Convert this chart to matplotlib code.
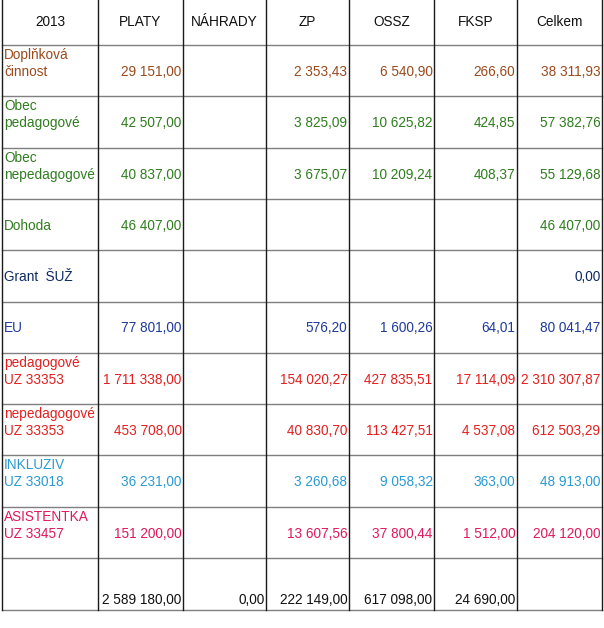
import matplotlib
matplotlib.use("Agg")
import matplotlib.pyplot as plt

plt.rcParams['font.family'] = ['Liberation Sans', 'DejaVu Sans']

# ---- data ----
header = ["2013", "PLATY", "NÁHRADY", "ZP", "OSSZ", "FKSP", "Celkem"]
row_labels = [
    "Doplňková\nčinnost",
    "Obec\npedagogové",
    "Obec\nnepedagogové",
    "Dohoda",
    "Grant  ŠUŽ",
    "EU",
    "pedagogové\nUZ 33353",
    "nepedagogové\nUZ 33353",
    "INKLUZIV\nUZ 33018",
    "ASISTENTKA\nUZ 33457",
]
platy = [29151.00, 42507.00, 40837.00, 46407.00, None, 77801.00, 1711338.00, 453708.00, 36231.00, 151200.00]
nahrady = [None] * 10
zp = [2353.43, 3825.09, 3675.07, None, None, 576.20, 154020.27, 40830.70, 3260.68, 13607.56]
ossz = [6540.90, 10625.82, 10209.24, None, None, 1600.26, 427835.51, 113427.51, 9058.32, 37800.44]
fksp = [266.60, 424.85, 408.37, None, None, 64.01, 17114.09, 4537.08, 363.00, 1512.00]
celkem = [38311.93, 57382.76, 55129.68, 46407.00, 0.00, 80041.47, 2310307.87, 612503.29, 48913.00, 204120.00]
totals = [2589180.00, 0.00, 222149.00, 617098.00, 24690.00, None]

row_colors = ["#9a4a1c", "#2f7d1e", "#2f7d1e", "#2f7d1e", "#0d2a66", "#1f3a9c",
              "#e3201f", "#e3201f", "#2a9ad2", "#e0185c"]

# ---- layout ----
W, H = 604, 628
col_edges = [2, 98, 183, 266, 349, 434, 517, 602]
n = len(row_labels)
top_data, bottom_data = 45, 558
row_edges = [0] + [top_data + (bottom_data - top_data) * i / n for i in range(n + 1)] + [610]

fig = plt.figure(figsize=(W / 100, H / 100), dpi=100)
ax = fig.add_axes([0, 0, 1, 1])
ax.set_xlim(0, W)
ax.set_ylim(H, 0)
ax.axis("off")

fs = 9.8

def fmt(v):
    s = f"{v:,.2f}"
    return s.replace(",", " ").replace(".", ",")

# grid
for y in row_edges[1:]:
    ax.plot([col_edges[0], col_edges[-1]], [y, y], color="#7f7f7f", lw=1.0)
for x in col_edges:
    ax.plot([x, x], [0, 610], color="#1a1a1a", lw=1.0)

# header
for j, h in enumerate(header):
    cx = (col_edges[j] + col_edges[j + 1]) / 2
    ax.text(cx, 22, h, ha="center", va="center", fontsize=fs, color="#111111")

cols = [platy, nahrady, zp, ossz, fksp, celkem]
for i in range(n):
    top = row_edges[i + 1]
    bot = row_edges[i + 2]
    c = row_colors[i]
    lab = row_labels[i]
    if "\n" in lab:
        l1, l2 = lab.split("\n")
        ax.text(4, top + 10, l1, ha="left", va="center", fontsize=fs, color=c)
        ax.text(4, top + 27, l2, ha="left", va="center", fontsize=fs, color=c)
        yv = top + 27
    else:
        yv = (top + bot) / 2 + 1
        ax.text(4, yv, lab, ha="left", va="center", fontsize=fs, color=c)
    for j, col in enumerate(cols):
        v = col[i]
        if v is None:
            continue
        ax.text(col_edges[j + 2] - 1.5, yv, fmt(v), ha="right", va="center",
                fontsize=fs, color=c)

# totals row
for j, v in enumerate(totals):
    if v is None:
        continue
    ax.text(col_edges[j + 2] - 1.5, 600, fmt(v), ha="right", va="center",
            fontsize=fs, color="#111111")

fig.savefig("out.png", dpi=100, facecolor="white")
